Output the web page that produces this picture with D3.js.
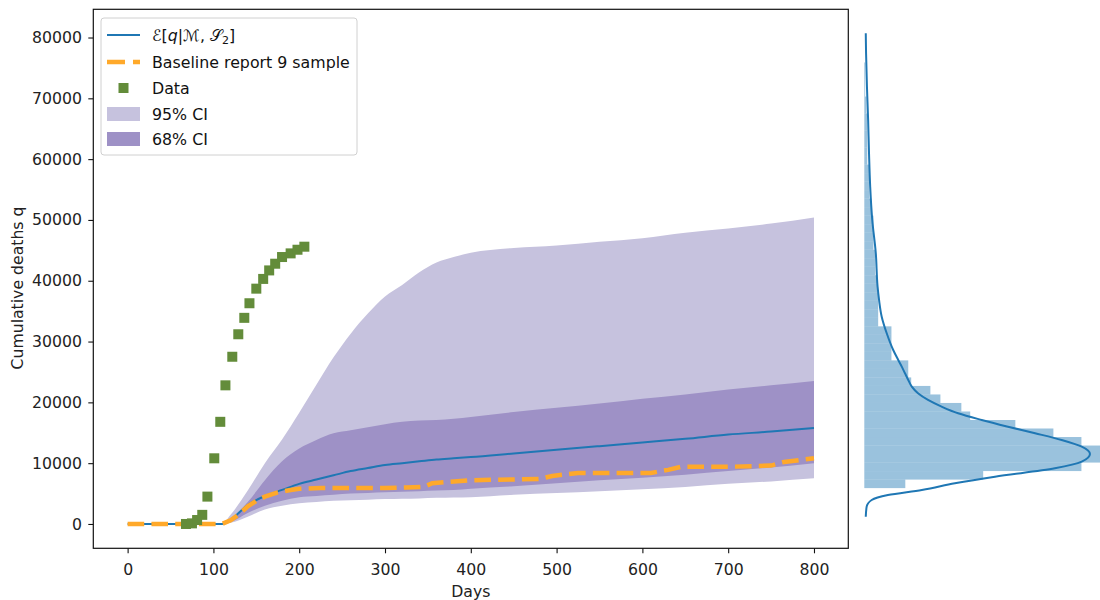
<!DOCTYPE html>
<html>
<head>
<meta charset="utf-8">
<script src="https://cdn.jsdelivr.net/npm/d3@7"></script>
<style>
  body { margin: 0; background: #fff; }
  svg text { font-family: "DejaVu Sans", sans-serif; }
</style>
</head>
<body>
<div id="chart"></div>
<script>
// days grid used by the mean and the credible bands
const bandDays = [0, 25, 50, 75, 100, 110, 120, 140, 160, 180, 200, 220, 240, 260, 280, 300, 320, 340, 360, 380, 400, 450, 500, 550, 600, 650, 700, 750, 800];
const meanDeaths = [0, 0, 0, 0, 0, 0, 700, 3100, 4600, 5600, 6600, 7300, 8000, 8700, 9200, 9700, 10000, 10300, 10600, 10800, 11000, 11600, 12200, 12800, 13400, 14000, 14700, 15200, 15800];
const ci95Lower = [0, 0, 0, 0, 0, 0, 200, 1200, 2400, 3000, 3400, 3600, 3800, 3900, 4000, 4100, 4150, 4200, 4300, 4350, 4400, 4800, 5100, 5400, 5700, 6100, 6600, 7000, 7500];
const ci95Upper = [0, 0, 0, 0, 0, 0, 1500, 5500, 10000, 13900, 18300, 22900, 27400, 31300, 34600, 37400, 39300, 41400, 43000, 43900, 44600, 45400, 45800, 46400, 47000, 47900, 48600, 49400, 50400];
const ci68Lower = [0, 0, 0, 0, 0, 0, 300, 1800, 3000, 3800, 4400, 4600, 4800, 5000, 5100, 5200, 5300, 5400, 5500, 5600, 5800, 6200, 6700, 7200, 7600, 8100, 8700, 9300, 10000];
const ci68Upper = [0, 0, 0, 0, 0, 0, 800, 3600, 7200, 10300, 12400, 13800, 14900, 15400, 15900, 16400, 16800, 17000, 17100, 17300, 17600, 18400, 19100, 19800, 20600, 21300, 22100, 22800, 23500];

// baseline report 9 sample
const baselineDays = [0, 110, 120, 130, 140, 150, 160, 175, 190, 200, 225, 250, 300, 325, 345, 355, 400, 480, 495, 525, 610, 630, 645, 700, 750, 765, 800];
const baselineDeaths = [0, 0, 600, 1600, 2900, 3800, 4500, 5200, 5600, 5800, 5900, 5900, 5900, 6000, 6100, 6700, 7200, 7400, 7900, 8400, 8400, 8900, 9400, 9400, 9600, 10200, 10800];

// observed data
const dataDays = [68, 75, 81, 87, 93, 101, 108, 114, 122, 129, 136, 142, 150, 158, 165, 172, 180, 190, 198, 206];
const dataDeaths = [0, 100, 650, 1500, 4500, 10800, 16800, 22800, 27500, 31200, 33900, 36300, 38700, 40300, 41700, 42800, 43900, 44500, 45100, 45600];

// marginal histogram of final deaths (density x 1e-5), 50 bins
const histStart = 5900, histBinWidth = 1400;
const histDensity = [1.39, 4.03, 7.36, 8.0, 8.0, 7.36, 6.41, 5.12, 3.59, 3.29, 2.58, 2.24, 1.59, 1.49, 1.49, 0.92, 0.92, 0.92, 0.92, 0.47,
  0.47, 0.47, 0.47, 0.44, 0.44, 0.37, 0.37, 0.37, 0.31, 0.31, 0.31, 0.31, 0.24, 0.24, 0.17, 0.17, 0.17, 0.17, 0.10, 0.10,
  0.10, 0.10, 0.10, 0.10, 0.07, 0.07, 0.03, 0.03, 0.03, 0.03];
// kde of the same sample
const kdeValues = [1200, 2850, 3950, 4770, 5590, 6690, 7780, 9160, 10250, 11510, 12710, 13810, 14920, 16000, 17100, 18200, 19290, 20390, 21490, 22580, 23680, 24780, 25870, 26970, 28610, 31360, 34090, 36840, 39020, 44520, 49990, 55470, 60960, 66440, 71910, 77400, 80690];
const kdeDensity = [0.05, 0.08, 0.25, 0.80, 1.95, 3.07, 4.43, 6.46, 7.37, 7.65, 7.37, 6.69, 5.79, 4.87, 3.98, 3.18, 2.62, 2.16, 1.82, 1.61, 1.49, 1.38, 1.27, 1.15, 0.98, 0.76, 0.59, 0.50, 0.45, 0.39, 0.27, 0.20, 0.16, 0.13, 0.09, 0.06, 0.05];

const xTicks = [0, 100, 200, 300, 400, 500, 600, 700, 800];
const yTicks = [0, 10000, 20000, 30000, 40000, 50000, 60000, 70000, 80000];

const colors = {
  mean: '#1f77b4',
  baseline: '#ffa92a',
  data: '#638c3a',
  ci95: '#c6c2de',
  ci68: '#9e91c6',
  hist: '#1f77b4'
};

const drawChart = () => {
  let width = 1100, height = 600,
    plot = { left: 93.3, right: 848.3, top: 9.3, bottom: 548.3 },
    fontSize = 15.7;

  let svg = d3.select('#chart').append('svg')
    .attr('width', width)
    .attr('height', height);

  let xScale = d3.scaleLinear().domain([-40, 840]).range([plot.left, plot.right]);
  let yScale = d3.scaleLinear().domain([-4000, 84640]).range([plot.bottom, plot.top]);

  let series = bandDays.map((d, i) => ({
    day: d, mean: meanDeaths[i],
    lo95: ci95Lower[i], hi95: ci95Upper[i],
    lo68: ci68Lower[i], hi68: ci68Upper[i]
  }));

  /* credible bands */
  svg.append('path')
    .datum(series)
    .attr('fill', colors.ci95)
    .attr('d', d3.area().curve(d3.curveMonotoneX).x(d => xScale(d.day)).y0(d => yScale(d.lo95)).y1(d => yScale(d.hi95)));
  svg.append('path')
    .datum(series)
    .attr('fill', colors.ci68)
    .attr('d', d3.area().curve(d3.curveMonotoneX).x(d => xScale(d.day)).y0(d => yScale(d.lo68)).y1(d => yScale(d.hi68)));

  // mean line
  svg.append('path')
    .datum(series)
    .attr('fill', 'none')
    .attr('stroke', colors.mean)
    .attr('stroke-width', 2)
    .attr('d', d3.line().curve(d3.curveMonotoneX).x(d => xScale(d.day)).y(d => yScale(d.mean)));

  // baseline dashed line
  svg.append('path')
    .datum(baselineDays.map((d, i) => [d, baselineDeaths[i]]))
    .attr('fill', 'none')
    .attr('stroke', colors.baseline)
    .attr('stroke-width', 4.5)
    .attr('stroke-dasharray', '16.6,7.2')
    .attr('d', d3.line().x(d => xScale(d[0])).y(d => yScale(d[1])));

  // data squares
  let sq = 10;
  svg.selectAll('.data-point')
    .data(dataDays.map((d, i) => [d, dataDeaths[i]]))
    .enter().append('rect')
    .attr('class', 'data-point')
    .attr('fill', colors.data)
    .attr('x', d => xScale(d[0]) - sq / 2)
    .attr('y', d => yScale(d[1]) - sq / 2)
    .attr('width', sq)
    .attr('height', sq);

  // Add the X Axis
  let xAxis = svg.append('g')
    .attr('transform', `translate(0,${plot.bottom})`)
    .call(d3.axisBottom(xScale).tickValues(xTicks).tickSize(5).tickPadding(10.5).tickSizeOuter(0));
  // Add the Y Axis
  let yAxis = svg.append('g')
    .attr('transform', `translate(${plot.left},0)`)
    .call(d3.axisLeft(yScale).tickValues(yTicks).tickFormat(d3.format('d')).tickSize(5).tickPadding(6.3).tickSizeOuter(0));
  [xAxis, yAxis].forEach(g => {
    g.select('.domain').remove();
    g.selectAll('text').attr('font-size', fontSize).attr('font-family', 'DejaVu Sans').attr('fill', '#222');
    g.selectAll('line').attr('stroke', '#111').attr('stroke-width', 1.1);
  });

  // frame
  svg.append('rect')
    .attr('x', plot.left).attr('y', plot.top)
    .attr('width', plot.right - plot.left).attr('height', plot.bottom - plot.top)
    .attr('fill', 'none').attr('stroke', '#111').attr('stroke-width', 1.2);

  svg.append('text')
    .attr('x', (plot.left + plot.right) / 2).attr('y', 596.5)
    .attr('text-anchor', 'middle').attr('font-size', fontSize).attr('fill', '#222')
    .text('Days');
  svg.append('text')
    .attr('transform', 'translate(23,288) rotate(-90)')
    .attr('text-anchor', 'middle').attr('font-size', fontSize).attr('fill', '#222')
    .text('Cumulative deaths q');

  /* Legend */
  let legend = svg.append('g');
  legend.append('rect')
    .attr('x', 101).attr('y', 18).attr('width', 256).attr('height', 137).attr('rx', 3)
    .attr('fill', '#fff').attr('fill-opacity', 0.8)
    .attr('stroke', '#d0d0d0');
  let rows = [35, 62, 88, 114, 139];
  let hx0 = 107, hx1 = 140, tx = 152;
  legend.append('line').attr('x1', hx0).attr('x2', hx1).attr('y1', rows[0]).attr('y2', rows[0])
    .attr('stroke', colors.mean).attr('stroke-width', 2);
  legend.append('line').attr('x1', hx0).attr('x2', hx1).attr('y1', rows[1]).attr('y2', rows[1])
    .attr('stroke', colors.baseline).attr('stroke-width', 4.5).attr('stroke-dasharray', '18,8');
  legend.append('rect').attr('x', (hx0 + hx1) / 2 - 5).attr('y', rows[2] - 5).attr('width', 10).attr('height', 10)
    .attr('fill', colors.data);
  legend.append('rect').attr('x', hx0).attr('y', rows[3] - 7).attr('width', hx1 - hx0).attr('height', 14)
    .attr('fill', colors.ci95);
  legend.append('rect').attr('x', hx0).attr('y', rows[4] - 7).attr('width', hx1 - hx0).attr('height', 14)
    .attr('fill', colors.ci68);

  let lf = 15.8;
  let t0 = legend.append('text').attr('x', tx).attr('y', rows[0] + 5.5).attr('font-size', lf).attr('fill', '#111');
  t0.append('tspan').text('ℰ[');
  t0.append('tspan').attr('font-style', 'italic').text('q');
  t0.append('tspan').text('|ℳ, 𝒮');
  t0.append('tspan').attr('font-size', 11).attr('dy', 3).text('2');
  t0.append('tspan').attr('dy', -3).text(']');
  ['Baseline report 9 sample', 'Data', '95% CI', '68% CI'].forEach((s, i) => {
    legend.append('text').attr('x', tx).attr('y', rows[i + 1] + 5.5)
      .attr('font-size', lf).attr('fill', '#111').text(s);
  });

  /* marginal histogram + kde */
  let hScale = d3.scaleLinear().domain([0, 8.0]).range([864.3, 864.3 + 236]);
  svg.selectAll('.hist-bar')
    .data(histDensity)
    .enter().append('rect')
    .attr('class', 'hist-bar')
    .attr('fill', colors.hist).attr('fill-opacity', 0.45)
    .attr('x', hScale(0))
    .attr('y', (d, i) => yScale(histStart + (i + 1) * histBinWidth))
    .attr('width', d => hScale(d) - hScale(0))
    .attr('height', (d, i) => yScale(histStart + i * histBinWidth) - yScale(histStart + (i + 1) * histBinWidth));
  svg.append('path')
    .datum(kdeValues.map((v, i) => [v, kdeDensity[i]]))
    .attr('fill', 'none')
    .attr('stroke', colors.hist)
    .attr('stroke-width', 2)
    .attr('d', d3.line().curve(d3.curveMonotoneY).x(d => hScale(d[1])).y(d => yScale(d[0])));
}
drawChart();
</script>
</body>
</html>
